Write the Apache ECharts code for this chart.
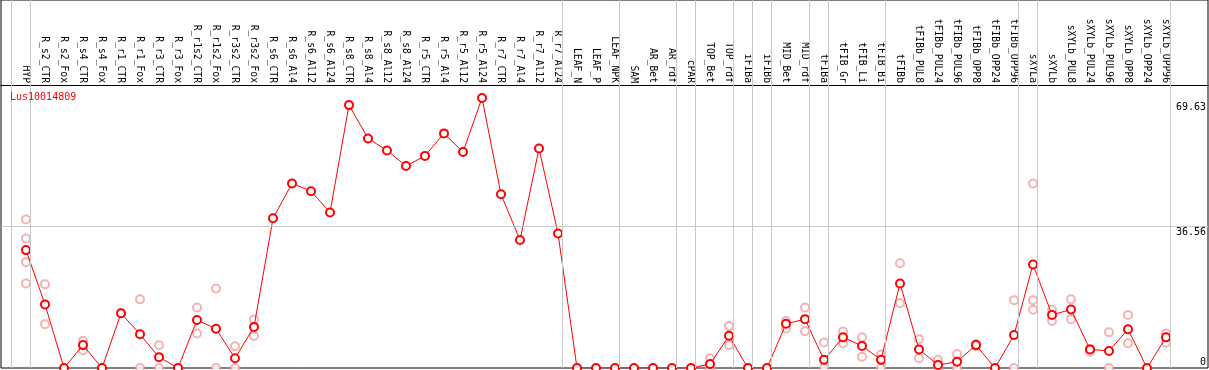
<!DOCTYPE html>
<html>
<head>
<meta charset="utf-8">
<script src="https://cdn.jsdelivr.net/npm/echarts@6/dist/echarts.min.js"></script>
<style>
  html, body { margin: 0; padding: 0; background: #fff; }
  #main { width: 1209px; height: 370px; }
</style>
</head>
<body>
<div id="main"></div>
<script>
const geneName = 'Lus10014809';
const sampleNames = [
  'HYP', 'R_s2_CTR', 'R_s2_Fox', 'R_s4_CTR', 'R_s4_Fox', 'R_r1_CTR', 'R_r1_Fox', 'R_r3_CTR', 'R_r3_Fox',
  'R_r1s2_CTR', 'R_r1s2_Fox', 'R_r3s2_CTR', 'R_r3s2_Fox', 'R_s6_CTR', 'R_s6_Al4', 'R_s6_Al12', 'R_s6_Al24',
  'R_s8_CTR', 'R_s8_Al4', 'R_s8_Al12', 'R_s8_Al24', 'R_r5_CTR', 'R_r5_Al4', 'R_r5_Al12', 'R_r5_Al24',
  'R_r7_CTR', 'R_r7_Al4', 'R_r7_Al12', 'R_r7_Al24', 'LEAF_N', 'LEAF_P', 'LEAF_NPK', 'SAM', 'AR_Bet', 'AR_rdf',
  'cPAR', 'TOP_Bet', 'TOP_rdf', 'iFIBa', 'iFIBb', 'MID_Bet', 'MID_rdf', 'tFIBa', 'tFIB_Gr', 'tFIB_Li', 'tFIB_Bi',
  'tFIBb', 'tFIBb_PUL8', 'tFIBb_PUL24', 'tFIBb_PUL96', 'tFIBb_OPP8', 'tFIBb_OPP24', 'tFIBb_OPP96',
  'sXYLa', 'sXYLb', 'sXYLb_PUL8', 'sXYLb_PUL24', 'sXYLb_PUL96', 'sXYLb_OPP8', 'sXYLb_OPP24', 'sXYLb_OPP96'
];
// mean expression per sample
const meanValues = [
  30.4, 16.4, 0, 5.9, 0, 14.1, 8.7, 2.8, 0, 12.4, 10.1, 2.5, 10.6, 38.6, 47.6, 45.6, 40.1,
  67.8, 59.2, 56.1, 52.1, 54.7, 60.5, 55.7, 69.63, 44.8, 33.0, 56.6, 34.7, 0, 0, 0, 0, 0, 0,
  0, 1.0, 8.3, 0, 0, 11.4, 12.6, 2.1, 7.9, 5.7, 2.1,
  21.8, 4.8, 0.8, 1.6, 5.9, 0, 8.5,
  26.7, 13.7, 15.1, 4.8, 4.4, 10.0, 0, 7.9
];
// replicate values per sample
const replicateValues = [
  [38.3, 33.4, 27.3, 21.8], [21.6, 11.3], [], [7.0, 4.6], [], [14.2], [17.7, 0], [5.85, 0], [],
  [15.6, 8.9], [20.5, 0], [5.6, 0], [12.5, 8.25], [], [], [], [],
  [], [], [], [], [], [], [], [],
  [], [], [], [], [], [], [], [], [], [],
  [], [2.5, 0], [10.8, 5.9], [], [], [12.2, 10.1], [15.6, 9.5], [6.6, 0], [9.4, 6.4], [7.9, 2.9], [3.5, 0],
  [27.0, 16.7], [7.4, 2.5], [2.1, 0], [3.6, 0], [6.2, 5.6], [], [17.5, 0],
  [47.6, 17.5, 15.0], [15.0, 12.1], [17.7, 12.6], [4.9, 4.2], [9.2, 0], [13.7, 6.4], [], [8.9, 6.5]
];
// group separators come after these sample indices
const groupEnds = [-1, 0, 28, 31, 34, 35, 37, 38, 39, 41, 42, 45, 52, 53, 60];
const yLabels = [0, 36.56, 69.63];
const yMax = 69.63;

const FONT = 'DejaVu Sans Mono';
const X_MIN = -25 / 19, X_MAX = 1182 / 19;
let chart = echarts.init(document.getElementById('main'), null, { renderer: 'canvas' });

let meanData = meanValues.map((v, i) => [i, v]);
let repData = [];
replicateValues.forEach((reps, i) => {
  reps.forEach(v => repData.push([i, v]));
});
let sepLines = groupEnds.map(i => ({ xAxis: i + 0.2 }));

let option = {
  animation: false,
  title: {
    text: geneName,
    left: 10,
    top: 92,
    padding: 0,
    textStyle: { color: '#ff0000', fontSize: 10, fontWeight: 'normal', fontFamily: FONT }
  },
  grid: [
    // outer frame incl. header
    { left: 1, right: 1, top: 0, bottom: 2, show: true, borderColor: '#000', borderWidth: 1, outerBoundsMode: 'none' },
    // plot area
    { left: 1, right: 1, top: 85, bottom: 2, outerBoundsMode: 'none' }
  ],
  xAxis: [
    {
      gridIndex: 0, type: 'value', min: X_MIN, max: X_MAX, show: false
    },
    {
      gridIndex: 1,
      type: 'value',
      position: 'top',
      min: X_MIN,
      max: X_MAX,
      axisLine: { show: true, onZero: false, lineStyle: { color: '#000', width: 1 } },
      axisTick: { show: false },
      splitLine: { show: false },
      axisLabel: {
        customValues: sampleNames.map((n, i) => i),
        rotate: 90,
        margin: 2,
        color: '#000',
        fontSize: 9.7,
        fontFamily: FONT,
        formatter: v => sampleNames[Math.round(v)] || ''
      }
    }
  ],
  yAxis: [
    { gridIndex: 0, type: 'value', min: 0, max: 1, show: false },
    {
      gridIndex: 1,
      type: 'value',
      position: 'right',
      min: 0,
      max: yMax * 283 / 270,
      axisLine: { show: false },
      axisTick: { show: false },
      splitLine: { show: false },
      axisLabel: {
        customValues: yLabels,
        inside: true,
        margin: 2,
        color: '#000',
        fontSize: 10,
        fontFamily: FONT,
        verticalAlign: 'middle',
        formatter: v => {
          if (v === 0) return '{b|0}';
          if (v === yLabels[1]) return '{m|' + v + '}';
          return '{t|' + v + '}';
        },
        rich: {
          t: { fontSize: 10, fontFamily: FONT, padding: [19, 0, 0, 0] },
          m: { fontSize: 10, fontFamily: FONT, padding: [12, 0, 0, 0] },
          b: { fontSize: 10, fontFamily: FONT, padding: [0, 0, 12, 0] }
        }
      }
    }
  ],
  series: [
    {
      // group separator lines through header and plot
      type: 'line',
      xAxisIndex: 0,
      yAxisIndex: 0,
      data: [],
      z: 1,
      markLine: {
        silent: true,
        symbol: ['none', 'none'],
        label: { show: false },
        lineStyle: { color: '#c8c8c8', type: 'solid', width: 1 },
        data: sepLines
      }
    },
    {
      // replicates
      type: 'scatter',
      xAxisIndex: 1,
      yAxisIndex: 1,
      data: repData,
      symbol: 'emptyCircle',
      symbolSize: 8,
      z: 2,
      itemStyle: { color: '#f0a0a0', borderColor: '#f0a0a0', borderWidth: 1.3 },
      markLine: {
        silent: true,
        symbol: ['none', 'none'],
        label: { show: false },
        lineStyle: { color: '#c8c8c8', type: 'solid', width: 1 },
        data: [{ yAxis: yLabels[1] }]
      }
    },
    {
      type: 'line',
      xAxisIndex: 1,
      yAxisIndex: 1,
      data: meanData,
      symbol: 'emptyCircle',
      symbolSize: 8,
      showAllSymbol: true,
      z: 3,
      lineStyle: { color: '#ff0000', width: 1 },
      itemStyle: { color: '#ff0000', borderColor: '#ff0000', borderWidth: 1.3 }
    }
  ]
};
chart.setOption(option);
</script>
</body>
</html>
